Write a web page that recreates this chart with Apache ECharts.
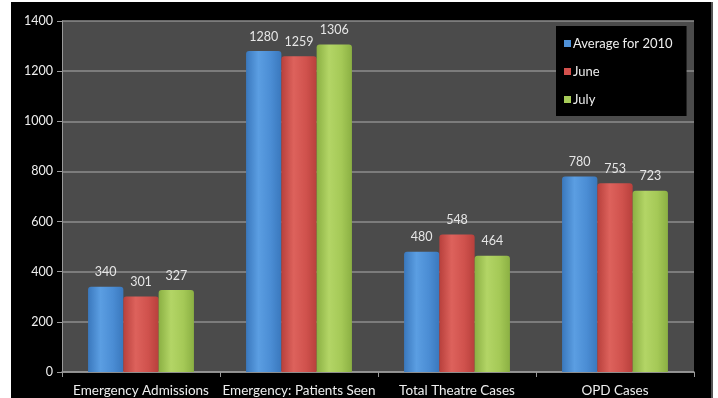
<!DOCTYPE html>
<html>
<head>
<meta charset="utf-8">
<script src="https://cdn.jsdelivr.net/npm/echarts@6/dist/echarts.min.js"></script>
<style>
html,body{margin:0;padding:0;background:#fff;}
#wrap{position:absolute;left:11px;top:2px;width:700px;height:396px;background:#000;border-right:2px solid #555;}
#c{position:absolute;left:0;top:0;width:700px;height:396px;}
</style>
</head>
<body>
<div id="wrap"><div id="c"></div></div>
<script>
const categories = ['Emergency Admissions', 'Emergency: Patients Seen', 'Total Theatre Cases', 'OPD Cases'];
const avg2010 = [340, 1280, 480, 780];
const june = [301, 1259, 548, 753];
const july = [327, 1306, 464, 723];
const seriesNames = ['Average for 2010', 'June', 'July'];
const yTicks = [0, 200, 400, 600, 800, 1000, 1200, 1400];

function grad(dark, mid, light) {
  return new echarts.graphic.LinearGradient(0, 0, 1, 0, [
    {offset: 0, color: dark},
    {offset: 0.35, color: light},
    {offset: 0.7, color: mid},
    {offset: 1, color: dark}
  ]);
}
const styles = [
  {c: grad('#3a78bd', '#4b8dd4', '#5b9ee2'), l: '#4f91d8'},
  {c: grad('#b8403c', '#d0524d', '#dd625c'), l: '#d4514d'},
  {c: grad('#8bb043', '#a5c957', '#b3d566'), l: '#a6cb58'}
];
const data = [avg2010, june, july];
const font = 'Lato, "Open Sans", sans-serif';

const chart = echarts.init(document.getElementById('c'), null, {renderer: 'canvas'});
chart.setOption({
  backgroundColor: '#000',
  animation: false,
  grid: {left: 51, right: 17, top: 19, bottom: 22, show: true, backgroundColor: '#4b4b4b', borderWidth: 0, containLabel: false},
  legend: {
    orient: 'vertical', left: 545, top: 24,
    backgroundColor: '#000',
    padding: [11, 14, 10, 8],
    itemGap: 15, itemWidth: 7, itemHeight: 7,
    icon: 'rect',
    textStyle: {color: '#eee', fontSize: 13, fontFamily: font, padding: [0, 0, 0, -3], width: 106},
    data: seriesNames.map((n, i) => ({name: n, itemStyle: {color: styles[i].l}}))
  },
  xAxis: {
    type: 'category', data: categories,
    axisLine: {lineStyle: {color: '#9a9a9a', width: 1.5}},
    axisTick: {show: true, length: 5, lineStyle: {color: '#9a9a9a'}},
    axisLabel: {color: '#eee', fontSize: 13.5, fontFamily: font, margin: 12, interval: 0}
  },
  yAxis: {
    type: 'value', min: 0, max: 1400, interval: 200,
    axisLine: {show: true, lineStyle: {color: '#9a9a9a'}},
    axisTick: {show: true, length: 5, lineStyle: {color: '#9a9a9a'}},
    axisLabel: {color: '#eee', fontSize: 12.5, fontFamily: font, margin: 9,
      formatter: v => yTicks.includes(v) ? String(v) : ''},
    splitLine: {lineStyle: {color: '#8c8c8c', width: 1.5}}
  },
  series: data.map((d, i) => ({
    name: seriesNames[i], type: 'bar', data: d,
    barGap: '0%', barCategoryGap: '33%',
    itemStyle: {color: styles[i].c, borderRadius: [3, 3, 0, 0]},
    label: {show: true, position: 'top', distance: 8, color: '#e6e6e6', fontSize: 12.5, fontFamily: font}
  }))
});
</script>
</body>
</html>
